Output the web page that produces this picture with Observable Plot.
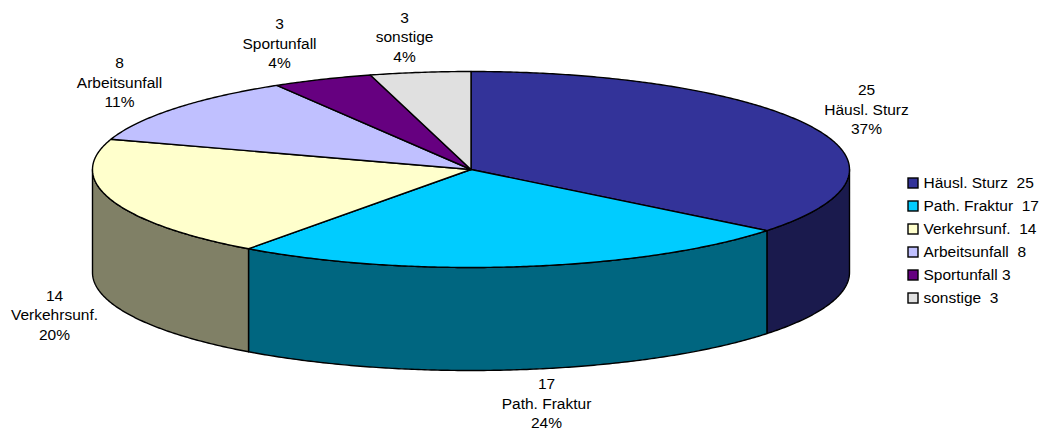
<!DOCTYPE html>
<html><head><meta charset="utf-8">
<style>html,body{margin:0;padding:0;background:#fff}svg{display:block}</style>
<script src="https://cdn.jsdelivr.net/npm/d3@7"></script>
<script src="https://cdn.jsdelivr.net/npm/@observablehq/plot@0.6"></script>
</head><body>
<script>
const categories = ["Häusl. Sturz","Path. Fraktur","Verkehrsunf.","Arbeitsunfall","Sportunfall","sonstige"];
const values = [25,17,14,8,3,3];
const percents = ["37%","24%","20%","11%","4%","4%"];
const legendLabels = ["Häusl. Sturz  25","Path. Fraktur  17","Verkehrsunf.  14","Arbeitsunfall  8","Sportunfall 3","sonstige  3"];
const topColors = ["#333399","#00CCFF","#FFFFCC","#C0C0FF","#660080","#E0E0E0"];
const sideColors = ["#1A1A4D","#006680","#808066","#606080","#330040","#707070"];

// layout
const cx=470.5, cy=169, rx=378.5, ry=98, depth=103;
const labelX=[866,546,54,119,279,404], labelY=[108,402,313.5,81,42,35.5];
const legendX=908, legendY0=183, legendStep=23;

const total=d3.sum(values);
const cum=d3.cumsum(values);
const ang=i=>(i<0?0:cum[i]/total*360);
const pt=(deg,dz=0)=>{const r=deg*Math.PI/180;return {x:cx+rx*Math.sin(r),y:cy-ry*Math.cos(r)+dz};};
const arc=(a,b,dz=0)=>{const n=Math.max(2,Math.ceil((b-a)*2));return d3.range(n+1).map(k=>pt(a+(b-a)*k/n,dz));};

const tops=[],sides=[];
values.forEach((v,i)=>{
  const a=ang(i-1),b=ang(i);
  const c={x:cx,y:cy};
  [c,...arc(a,b),c].forEach(p=>tops.push({...p,k:i,fill:topColors[i]}));
  const s=Math.max(a,90),e=Math.min(b,270);
  if(e>s){
    const t=arc(s,e),u=arc(s,e,depth).reverse();
    [...t,...u,t[0]].forEach(p=>sides.push({...p,k:i,fill:sideColors[i]}));
  }
});
const labels=categories.map((c,i)=>({x:labelX[i],y:labelY[i],text:`${values[i]}\n${c}\n${percents[i]}`}));
const legend=legendLabels.map((t,i)=>({t,c:topColors[i],y:legendY0+i*legendStep}));

const poly=d=>Plot.line(d,{x:"x",y:"y",z:"k",fill:"fill",stroke:"#000",strokeWidth:1.4,strokeLinejoin:"round"});
document.body.append(Plot.plot({
  width:1042,height:430,margin:0,
  x:{domain:[0,1042],range:[0,1042],axis:null},
  y:{domain:[0,430],range:[0,430],axis:null},
  color:{type:"identity"},
  style:{fontFamily:"'Liberation Sans',Arial,sans-serif",whiteSpace:"pre",background:"#fff"},
  marks:[
    poly(sides),
    poly(tops),
    Plot.text(labels,{x:"x",y:"y",text:"text",fontSize:15.5,lineHeight:1.26,fill:"#000",textAnchor:"middle"}),
    Plot.rect(legend,{x1:()=>legendX,x2:()=>legendX+10,y1:d=>d.y-5,y2:d=>d.y+5,fill:"c",stroke:"#000",strokeWidth:1.4}),
    Plot.text(legend,{x:()=>legendX+15,y:"y",text:"t",fontSize:15.5,fill:"#000",textAnchor:"start"})
  ]
}));
</script>
</body></html>
